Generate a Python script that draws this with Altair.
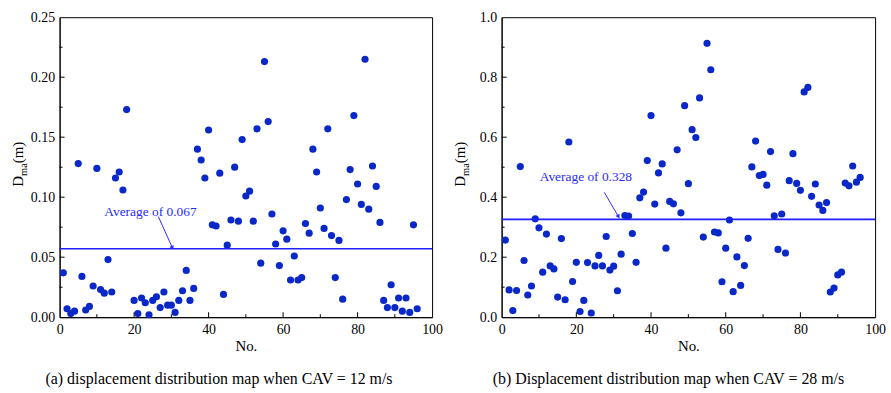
import altair as alt
import pandas as pd

# ---------------- data ----------------
left_no = [1, 2, 3, 4, 5, 6, 7, 8, 9, 10, 11, 12, 13, 14, 15, 16, 17, 18,
           20, 21, 22, 23, 24, 25, 26, 27, 28, 29, 30, 31, 32, 33, 34, 35, 36,
           37, 38, 39, 40, 41, 42, 43, 44, 45, 46, 47, 48, 49, 50, 51, 52, 53,
           54, 55, 56, 57, 58, 59, 60, 61, 62, 63, 64, 65, 66, 67, 68, 69, 70,
           71, 72, 73, 74, 75, 76, 77, 78, 79, 80, 81, 82, 83, 84, 85, 86, 87,
           88, 89, 90, 91, 92, 93, 94, 95, 96]
left_d = [0.037, 0.007, 0.003, 0.005, 0.128, 0.034, 0.006, 0.009, 0.026, 0.124,
          0.023, 0.020, 0.048, 0.021, 0.116, 0.121, 0.106, 0.173,
          0.014, 0.003, 0.016, 0.012, 0.002, 0.014, 0.017, 0.008, 0.021, 0.010,
          0.010, 0.004, 0.014, 0.022, 0.039, 0.014, 0.024,
          0.140, 0.131, 0.116, 0.156, 0.077, 0.076, 0.120, 0.019, 0.060, 0.081,
          0.125, 0.080, 0.148, 0.101, 0.105, 0.080, 0.157,
          0.045, 0.213, 0.163, 0.086, 0.061, 0.043, 0.072, 0.065, 0.031, 0.051,
          0.031, 0.033, 0.078, 0.070, 0.140, 0.121, 0.091,
          0.074, 0.157, 0.068, 0.033, 0.064, 0.015, 0.098, 0.123, 0.168, 0.111,
          0.094, 0.215, 0.090, 0.126, 0.109, 0.079, 0.014,
          0.008, 0.027, 0.008, 0.016, 0.005, 0.016, 0.004, 0.077, 0.007]

right_no = list(range(1, 97))
right_d = [0.257, 0.091, 0.022, 0.089, 0.502, 0.189, 0.074, 0.104, 0.328, 0.298,
           0.150, 0.277, 0.171, 0.161, 0.067, 0.262, 0.058, 0.584, 0.119, 0.183,
           0.019, 0.056, 0.182, 0.014, 0.171, 0.206, 0.171, 0.269, 0.157, 0.170,
           0.088, 0.210, 0.339, 0.337, 0.279, 0.183, 0.398, 0.417, 0.522, 0.672,
           0.377, 0.481, 0.511, 0.230, 0.386, 0.378, 0.558, 0.348, 0.705, 0.445,
           0.625, 0.599, 0.731, 0.267, 0.913, 0.825, 0.284, 0.281, 0.118, 0.230,
           0.324, 0.085, 0.201, 0.106, 0.172, 0.263, 0.501, 0.587, 0.472, 0.476,
           0.440, 0.552, 0.338, 0.226, 0.344, 0.214, 0.455, 0.545, 0.446, 0.423,
           0.751, 0.766, 0.403, 0.444, 0.374, 0.356, 0.382, 0.084, 0.097, 0.141,
           0.150, 0.447, 0.438, 0.504, 0.450, 0.466]

avg_line = [0.057, 0.326]
avg_text = ["Average of 0.067", "Average of 0.328"]
avg_text_pos = [(12.0, 0.0875), (10.2, 0.468)]
arrow_from = [(26.5, 0.0839), (27.5, 0.416)]
arrow_to = [(30.2, 0.0584), (31.2, 0.337)]
captions = ["(a) displacement distribution map when  CAV = 12 m/s",
            "(b) Displacement distribution map when CAV = 28 m/s"]
x_major = [0, 20, 40, 60, 80, 100]
x_minor = [10, 30, 50, 70, 90]
left_y_major = [0.0, 0.05, 0.10, 0.15, 0.20, 0.25]
left_y_minor = [0.025, 0.075, 0.125, 0.175, 0.225]
right_y_major = [0.0, 0.2, 0.4, 0.6, 0.8, 1.0]
right_y_minor = [0.1, 0.3, 0.5, 0.7, 0.9]

# ---------------- style ----------------
SERIF = "Liberation Serif"
PT = "#0a28c8"
LINE = "#1f1fff"
TXT = "#2a2aff"


def panel(nums, vals, ymax, ymaj, ymin, yfmt, avg, label, tpos, afrom, ato,
          angle, caption, cap_dx, W, H):
    xs = alt.Scale(domain=[0, 100], nice=False, zero=False)
    ys = alt.Scale(domain=[0, ymax], nice=False, zero=False)
    xaxis = alt.Axis(title="No.", values=x_major, format="d", ticks=False,
                     grid=False, labelFont=SERIF, labelFontSize=14,
                     labelColor="black", titleFont=SERIF, titleFontSize=15,
                     titleFontWeight="normal", titleColor="black",
                     labelPadding=5, titlePadding=3, domainColor="black",
                     labelFlush=False)
    yaxis = alt.Axis(title=None, values=ymaj, format=yfmt, ticks=False,
                     grid=False, labelFont=SERIF, labelFontSize=14,
                     labelColor="black", labelPadding=5, domainColor="black",
                     labelFlush=False)

    df = pd.DataFrame({"no": nums, "d": vals})
    pts = alt.Chart(df).mark_circle(size=52, opacity=1, color=PT).encode(
        x=alt.X("no:Q", scale=xs, axis=xaxis),
        y=alt.Y("d:Q", scale=ys, axis=yaxis))

    rule = alt.Chart(pd.DataFrame({"v": [avg]})).mark_rule(
        color=LINE, strokeWidth=1.6).encode(y=alt.Y("v:Q", scale=ys))

    txt = alt.Chart(pd.DataFrame({"x": [tpos[0]], "y": [tpos[1]], "t": [label]})).mark_text(
        align="left", baseline="middle", font=SERIF, fontSize=13.5, color=TXT).encode(
        x=alt.X("x:Q", scale=xs), y=alt.Y("y:Q", scale=ys), text="t:N")

    arr = alt.Chart(pd.DataFrame({"x": [afrom[0]], "y": [afrom[1]],
                                  "x2": [ato[0]], "y2": [ato[1]]})).mark_rule(
        color=TXT, strokeWidth=1).encode(
        x=alt.X("x:Q", scale=xs), y=alt.Y("y:Q", scale=ys), x2="x2:Q", y2="y2:Q")

    head = alt.Chart(pd.DataFrame({"x": [ato[0]], "y": [ato[1]]})).mark_point(
        shape="triangle", filled=True, size=22, angle=angle, color=TXT, opacity=1).encode(
        x=alt.X("x:Q", scale=xs), y=alt.Y("y:Q", scale=ys))

    xt1 = alt.Chart(pd.DataFrame({"t": x_major[1:-1]})).mark_rule(color="black").encode(
        x=alt.X("t:Q", scale=xs), y=alt.value(H), y2=alt.value(H - 5))
    xt2 = alt.Chart(pd.DataFrame({"t": x_minor})).mark_rule(color="black").encode(
        x=alt.X("t:Q", scale=xs), y=alt.value(H), y2=alt.value(H - 3))
    yt1 = alt.Chart(pd.DataFrame({"t": ymaj[1:-1]})).mark_rule(color="black").encode(
        y=alt.Y("t:Q", scale=ys), x=alt.value(0), x2=alt.value(5))
    yt2 = alt.Chart(pd.DataFrame({"t": ymin})).mark_rule(color="black").encode(
        y=alt.Y("t:Q", scale=ys), x=alt.value(0), x2=alt.value(3))

    yc = H / 2 - 3
    tD = alt.Chart(pd.DataFrame({"t": ["D"]})).mark_text(
        angle=270, align="left", baseline="alphabetic", font=SERIF, fontSize=15,
        color="black").encode(x=alt.value(-37), y=alt.value(yc + 22.6), text="t:N")
    tS = alt.Chart(pd.DataFrame({"t": ["ma"]})).mark_text(
        angle=270, align="left", baseline="alphabetic", font=SERIF, fontSize=10.5,
        color="black").encode(x=alt.value(-33), y=alt.value(yc + 11.8), text="t:N")
    tM = alt.Chart(pd.DataFrame({"t": ["(m)"]})).mark_text(
        angle=270, align="left", baseline="alphabetic", font=SERIF, fontSize=15,
        color="black").encode(x=alt.value(-37), y=alt.value(yc - 1), text="t:N")

    return alt.layer(pts, rule, txt, arr, head, xt1, xt2, yt1, yt2, tD, tS, tM).properties(
        width=W, height=H,
        title=alt.TitleParams(caption, orient="bottom", anchor="middle", font=SERIF,
                              fontSize=16, fontWeight="normal", color="black",
                              offset=17, dx=cap_dx))


left = panel(left_no, left_d, 0.25, left_y_major, left_y_minor, ".2f", avg_line[0],
             avg_text[0], avg_text_pos[0], arrow_from[0], arrow_to[0], 155, captions[0],
             -27, 375, 302)
right = panel(right_no, right_d, 1.0, right_y_major, right_y_minor, ".1f", avg_line[1],
              avg_text[1], avg_text_pos[1], arrow_from[1], arrow_to[1], 150, captions[1],
              -20, 376, 302)

chart = alt.hconcat(left, right, spacing=70, bounds="flush").configure(
    padding={"left": 10, "top": 8, "right": 5, "bottom": 5},
    background="white",
).configure_view(stroke="black", strokeWidth=1).configure_axis(
    labelFont=SERIF, titleFont=SERIF, titleFontWeight="normal"
).configure_text(font=SERIF)

chart.save("out.html", embed_options={"renderer": "svg", "actions": False})
